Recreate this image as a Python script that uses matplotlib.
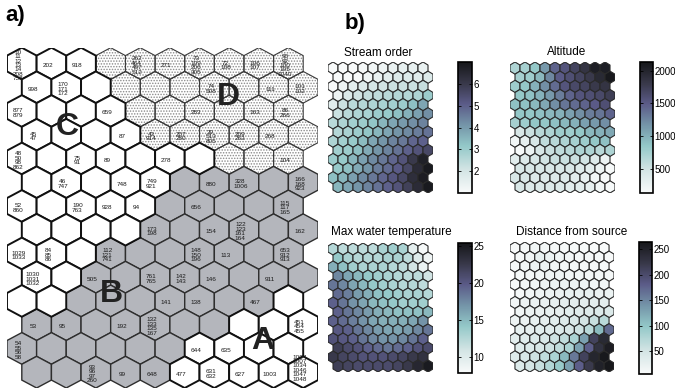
import numpy as np
import matplotlib
matplotlib.use("Agg")
import matplotlib.pyplot as plt
from matplotlib.patches import Polygon
from matplotlib.collections import PolyCollection
from matplotlib.colors import LinearSegmentedColormap, Normalize
from matplotlib.cm import ScalarMappable

plt.rcParams['font.family'] = ['Liberation Sans', 'DejaVu Sans']
plt.rcParams['hatch.linewidth'] = 0.7

# ---------------------------------------------------------------- data
N_ROWS, N_COLS = 14, 10

# cluster membership of each map unit (rows top -> bottom)
CLUSTERS = [
    "CCCDDDDDDD",
    "CCCDDDDDDD",
    "CCCCDDDDDD",
    "CCCCDDDDDD",
    "CCCCCCCDDD",
    "CCCCCBBBBB",
    "CCCCCBBBBB",
    "CCCCBBBBBB",
    "CCCBBBBBBB",
    "CCBBBBBBBB",
    "CCBBBBBBBA",
    "BBBBBBBAAA",
    "BBBBBBAAAA",
    "BBBBBAAAAA",
]

# sampling sites mapped to each unit: (row, col) -> site ids
SITES = {
    (0, 0): "10 11 12 13 14 208 758", (0, 1): "202", (0, 2): "918",
    (0, 4): "262 464 497 512", (0, 5): "271", (0, 6): "73 109 206 305",
    (0, 7): "72 108", (0, 8): "106 107", (0, 9): "90 92 100 105 1040",
    (1, 0): "998", (1, 1): "170 171 172", (1, 6): "74 508", (1, 8): "111",
    (1, 9): "101 102",
    (2, 0): "877 879", (2, 3): "659", (2, 6): "283", (2, 8): "163",
    (2, 9): "86 266",
    (3, 0): "45 47", (3, 3): "87", (3, 4): "43 914", (3, 5): "207 280",
    (3, 6): "39 513 805", (3, 7): "209 263", (3, 8): "268",
    (4, 0): "48 50 98 862", (4, 2): "75 91", (4, 3): "89", (4, 5): "278",
    (4, 9): "104",
    (5, 1): "46 747", (5, 3): "748", (5, 4): "749 921", (5, 6): "880",
    (5, 7): "328 1006", (5, 9): "166 168 923",
    (6, 0): "52 860", (6, 2): "190 763", (6, 3): "928", (6, 4): "94",
    (6, 6): "656", (6, 9): "115 117 165",
    (7, 4): "173 198", (7, 6): "154", (7, 7): "122 123 161 164", (7, 9): "162",
    (8, 0): "1029 1033", (8, 1): "84 85 86", (8, 3): "112 121 741",
    (8, 6): "148 150 196", (8, 7): "113", (8, 9): "653 912 913",
    (9, 0): "1030 1031 1032", (9, 2): "505", (9, 4): "761 765",
    (9, 5): "142 143", (9, 6): "146", (9, 8): "911",
    (10, 5): "141", (10, 6): "138", (10, 8): "467",
    (11, 0): "53", (11, 1): "95", (11, 3): "192", (11, 4): "132 133 135 167",
    (11, 9): "451 454 455",
    (12, 0): "54 55 56 58", (12, 6): "644", (12, 7): "635",
    (13, 2): "93 96 97 260", (13, 3): "99", (13, 4): "648", (13, 5): "477",
    (13, 6): "631 632", (13, 7): "627", (13, 8): "1003",
    (13, 9): "1004 1007 1034 1046 1047 1048",
}

CLUSTER_NAMES = ["A", "B", "C", "D"]
CLUSTER_LABEL_XY = {"A": (8.12, -10.12), "B": (3.01, -8.40),
                    "C": (1.53, -2.31), "D": (6.97, -1.22)}

# component planes (rows top -> bottom, cols left -> right)
STREAM_ORDER = [
    [1.0, 1.0, 1.0, 1.1, 1.2, 1.3, 1.4, 1.5, 1.5, 1.4],
    [1.0, 1.0, 1.0, 1.2, 1.4, 1.6, 1.8, 1.8, 1.7, 1.8],
    [1.0, 1.3, 1.6, 1.8, 2.0, 2.1, 2.2, 2.2, 2.2, 2.3],
    [1.3, 1.8, 2.1, 2.3, 2.4, 2.5, 2.6, 2.6, 2.7, 3.0],
    [1.7, 2.2, 2.5, 2.6, 2.7, 2.8, 2.9, 3.0, 3.3, 3.8],
    [2.2, 2.5, 2.7, 2.8, 3.0, 3.1, 3.3, 3.6, 3.9, 4.2],
    [2.5, 2.7, 2.9, 3.0, 3.2, 3.5, 3.8, 4.0, 4.2, 4.4],
    [2.6, 2.8, 3.0, 3.2, 3.5, 3.8, 4.1, 4.3, 4.5, 4.7],
    [2.7, 2.9, 3.1, 3.4, 3.8, 4.1, 4.4, 4.6, 4.9, 5.0],
    [2.9, 3.0, 3.3, 3.7, 4.1, 4.4, 4.7, 5.0, 5.3, 5.6],
    [3.0, 3.1, 3.5, 3.9, 4.3, 4.6, 4.9, 5.3, 6.0, 6.7],
    [3.1, 3.3, 3.7, 4.1, 4.5, 4.8, 5.1, 5.6, 6.4, 6.9],
    [3.3, 3.5, 3.9, 4.3, 4.6, 4.9, 5.2, 5.6, 6.3, 6.8],
    [3.5, 3.8, 4.1, 4.4, 4.7, 5.0, 5.3, 5.8, 6.4, 6.9],
]
ALTITUDE = [
    [700, 750, 850, 1150, 1450, 1550, 1700, 1850, 2050, 2050],
    [750, 800, 950, 1250, 1500, 1600, 1700, 1800, 1950, 2100],
    [800, 850, 1000, 1200, 1400, 1550, 1650, 1700, 1800, 1850],
    [850, 900, 1000, 1150, 1300, 1450, 1550, 1600, 1650, 1750],
    [900, 900, 950, 1050, 1200, 1350, 1400, 1450, 1500, 1600],
    [850, 850, 900, 950, 1000, 1100, 1200, 1300, 1350, 1450],
    [750, 800, 850, 850, 900, 950, 1000, 1100, 1150, 1200],
    [450, 550, 650, 700, 800, 800, 850, 950, 1000, 1050],
    [200, 300, 450, 600, 650, 700, 750, 800, 850, 900],
    [150, 250, 450, 550, 600, 650, 700, 700, 650, 700],
    [350, 400, 450, 500, 550, 550, 550, 500, 400, 250],
    [450, 450, 450, 450, 450, 450, 400, 350, 250, 150],
    [450, 450, 400, 400, 400, 400, 350, 300, 200, 150],
    [450, 400, 400, 400, 400, 350, 350, 300, 200, 150],
]
MAX_WATER_TEMP = [
    [12.5, 12.0, 12.0, 12.0, 12.0, 13.0, 13.5, 13.0, 9.5, 8.0],
    [14.0, 13.0, 12.5, 12.5, 12.5, 13.0, 13.0, 12.0, 10.0, 8.5],
    [15.5, 14.5, 13.5, 13.0, 13.0, 13.0, 12.5, 12.0, 11.0, 9.0],
    [17.5, 16.0, 15.0, 14.0, 13.5, 13.0, 12.5, 12.0, 12.0, 11.0],
    [18.5, 17.5, 16.0, 15.0, 14.0, 13.5, 13.0, 12.5, 12.5, 12.0],
    [19.0, 18.0, 16.5, 15.5, 14.5, 14.0, 13.5, 13.0, 13.0, 12.5],
    [19.5, 18.5, 17.0, 16.0, 15.0, 14.5, 14.0, 13.5, 13.5, 13.5],
    [19.5, 18.5, 17.5, 16.5, 15.5, 15.0, 14.5, 14.5, 14.5, 15.0],
    [19.5, 19.0, 18.0, 17.0, 16.0, 15.5, 15.5, 15.5, 16.0, 17.0],
    [20.0, 19.5, 18.5, 17.5, 16.5, 16.0, 16.0, 16.5, 17.5, 18.5],
    [20.5, 20.0, 19.5, 18.5, 17.5, 17.0, 17.0, 17.5, 18.5, 19.5],
    [22.0, 21.0, 20.5, 19.5, 19.0, 18.5, 19.0, 19.5, 20.5, 21.0],
    [22.5, 21.5, 21.0, 20.5, 20.5, 20.5, 21.0, 21.5, 22.5, 23.0],
    [22.0, 21.5, 21.0, 21.0, 21.0, 21.0, 21.5, 22.5, 24.0, 25.0],
]
DIST_FROM_SOURCE = [
    [5, 10, 15, 12, 10, 8, 8, 8, 6, 5],
    [8, 15, 25, 20, 15, 12, 10, 10, 8, 6],
    [8, 15, 20, 20, 15, 12, 12, 10, 10, 8],
    [8, 12, 15, 18, 18, 15, 15, 12, 12, 10],
    [8, 12, 15, 18, 20, 20, 20, 18, 15, 15],
    [10, 15, 18, 20, 22, 25, 25, 25, 22, 20],
    [12, 18, 20, 22, 25, 28, 30, 30, 30, 30],
    [15, 20, 22, 25, 28, 32, 35, 38, 40, 40],
    [18, 22, 25, 28, 32, 38, 42, 50, 60, 70],
    [25, 28, 32, 35, 40, 45, 55, 70, 110, 170],
    [30, 35, 40, 45, 55, 65, 80, 130, 210, 240],
    [35, 40, 45, 55, 65, 80, 130, 180, 230, 255],
    [38, 45, 55, 65, 80, 110, 160, 210, 245, 260],
    [40, 50, 60, 75, 95, 130, 180, 220, 250, 262],
]

PLANES = [
    ("Stream order", STREAM_ORDER, (1.0, 7.0), [2, 3, 4, 5, 6]),
    ("Altitude", ALTITUDE, (140, 2130), [500, 1000, 1500, 2000]),
    ("Max water temperature", MAX_WATER_TEMP, (7.8, 25.4), [10, 15, 20, 25]),
    ("Distance from source", DIST_FROM_SOURCE, (5, 264), [50, 100, 150, 200, 250]),
]

# ---------------------------------------------------------------- geometry
SQ = np.sqrt(0.75)
R = 1 / np.sqrt(3)
HEX = np.array([[0, R], [0.5, R / 2], [0.5, -R / 2],
                [0, -R], [-0.5, -R / 2], [-0.5, R / 2]])


def unit_center(r, c):
    return c + 0.5 * (r % 2), -r * SQ


def setup_map_axes(ax):
    ax.set_xlim(-0.5, N_COLS)
    ax.set_ylim(-(N_ROWS - 1) * SQ - R, R)
    ax.axis("off")


W, H = 675, 392


def px_axes(fig, x0, y0, x1, y1):
    return fig.add_axes([x0 / W, 1 - y1 / H, (x1 - x0) / W, (y1 - y0) / H])


fig = plt.figure(figsize=(W / 100, H / 100), dpi=100)

# ---------------------------------------------------------------- a) cluster map
ax = px_axes(fig, 7, 47.7, 318, 388)
setup_map_axes(ax)

styles = {
    "D": dict(facecolor="none", edgecolor="#3a3a3a", lw=0.8, zorder=1.5),
    "B": dict(facecolor="#b4b6bc", edgecolor="#2e2e2e", lw=1.0, zorder=2),
    "A": dict(facecolor="white", edgecolor="#111111", lw=1.4, zorder=3),
    "C": dict(facecolor="white", edgecolor="#111111", lw=1.4, zorder=3),
}
for r in range(N_ROWS):
    for c in range(N_COLS):
        x, y = unit_center(r, c)
        cl = CLUSTERS[r][c]
        if cl == "D":
            # stippled fill drawn separately so dots stay lighter than outline
            ax.add_patch(Polygon(HEX + [x, y], closed=True, facecolor="white",
                                 edgecolor="#8a8a8a", lw=0, hatch="......",
                                 zorder=1))
        ax.add_patch(Polygon(HEX + [x, y], closed=True, **styles[cl]))

LINE_H = 0.215  # approx. height of one label line in data units
for (r, c), txt in SITES.items():
    x, y = unit_center(r, c)
    lines = txt.split()
    ty = y - 0.07
    # keep tall stacks on the bottom row inside the figure
    if r == N_ROWS - 1:
        ty += max(0, len(lines) - 4) * LINE_H * 0.5
    ax.text(x - 0.12, ty, "\n".join(lines), ha="center", va="center",
            fontsize=4.6, linespacing=0.86, color="#1a1a1a", zorder=5,
            clip_on=False)

for name in CLUSTER_NAMES:
    lx, ly = CLUSTER_LABEL_XY[name]
    ax.text(lx, ly, name, ha="center", va="center", fontsize=23,
            fontweight="bold", color="#222222", zorder=6)

fig.text(5 / W, 1 - 16 / H, "a)", fontsize=16, fontweight="bold", va="center", ha="left")
fig.text(345 / W, 1 - 24 / H, "b)", fontsize=16, fontweight="bold", va="center", ha="left")

# ---------------------------------------------------------------- b) component planes
cmap = LinearSegmentedColormap.from_list("som_bone", [
    (0.00, "#f8fafa"), (0.18, "#d2e4e4"), (0.36, "#93c8c8"),
    (0.52, "#7494a8"), (0.68, "#5b5b88"), (0.84, "#383849"), (1.00, "#16171a")])

map_boxes = [(328, 62, 433, 193), (510, 62, 615, 193),
             (328, 243, 433, 372), (510, 242, 614, 372)]
cbar_boxes = [(458, 62, 472, 193), (640, 62, 653, 193),
              (458, 243, 472, 373), (639, 242, 652, 374)]
title_xy = [(378, 53), (567, 52), (391, 232), (572, 232)]

for (title, vals, (vmin, vmax), ticks), mb, cbb, (tx, ty) in zip(
        PLANES, map_boxes, cbar_boxes, title_xy):
    vals = np.asarray(vals, dtype=float)
    norm = Normalize(vmin, vmax)
    sax = px_axes(fig, *mb)
    setup_map_axes(sax)
    verts, cols = [], []
    for r in range(N_ROWS):
        for c in range(N_COLS):
            x, y = unit_center(r, c)
            verts.append(HEX + [x, y])
            cols.append(cmap(norm(vals[r, c])))
    sax.add_collection(PolyCollection(verts, facecolors=cols,
                                      edgecolors="#2a2a2a", linewidths=0.8))
    fig.text(tx / W, 1 - ty / H, title, ha="center", va="center", fontsize=8.5)

    cax = px_axes(fig, *cbb)
    cb = fig.colorbar(ScalarMappable(norm=norm, cmap=cmap), cax=cax, ticks=ticks)
    cb.outline.set_linewidth(1.2)
    cb.outline.set_edgecolor("black")
    cax.tick_params(axis="y", direction="in", left=True, right=True,
                    labelleft=False, labelright=True, length=2.5, width=0.6,
                    pad=1, labelsize=7)

fig.savefig("out.png", dpi=100)
